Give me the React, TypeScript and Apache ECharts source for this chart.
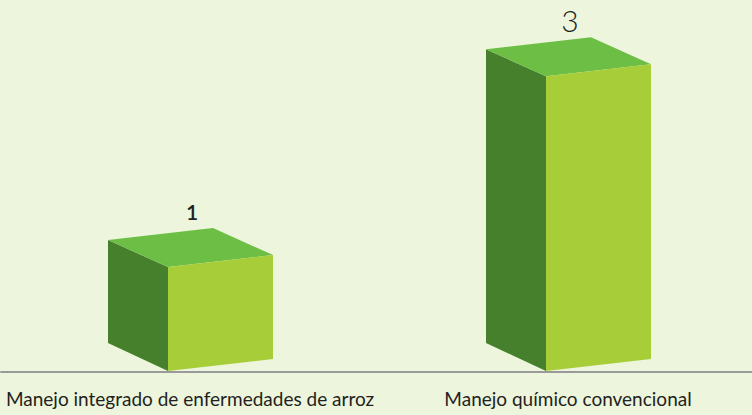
import React, { useEffect, useRef } from "react";
import * as echarts from "echarts";

const categories = ["Manejo integrado de enfermedades de arroz", "Manejo químico convencional"];
const values = [1, 3];

const Y_MIN = -0.1;
const Y_MAX = 3.8;

const COLORS = {
  bg: "#EDF5DC",
  front: "#A7CE39",
  side: "#46802C",
  top: "#6CBE45",
  axis: "#9A9A9A",
  text: "#231F20",
};

const valueLabelStyles = [
  { fontSize: 21, fontWeight: 600 },
  { fontSize: 30, fontWeight: 300 },
];

export default function App() {
  const ref = useRef<HTMLDivElement>(null);

  useEffect(() => {
    if (!ref.current) return;
    const chart = echarts.init(ref.current, undefined, { renderer: "svg" });

    const renderItem = (params: any, api: any) => {
      const cat = api.value(0);
      const val = api.value(1);
      const [cx, top] = api.coord([cat, val]);
      const base = api.coord([cat, Y_MIN])[1] - 1;
      const fl = cx - 22; // front left
      const fr = fl + 105; // front right
      const skew = 12;
      const dx = -60;
      const dy = -27;
      const ls = valueLabelStyles[params.dataIndex] || valueLabelStyles[0];
      return {
        type: "group",
        children: [
          {
            type: "polygon",
            shape: {
              points: [
                [fl, top],
                [fl, base],
                [fl + dx, base + dy - 1],
                [fl + dx, top + dy],
              ],
            },
            style: { fill: COLORS.side },
          },
          {
            type: "polygon",
            shape: {
              points: [
                [fl, top],
                [fr, top - skew],
                [fr + dx, top - skew + dy],
                [fl + dx, top + dy],
              ],
            },
            style: { fill: COLORS.top },
          },
          {
            type: "polygon",
            shape: {
              points: [
                [fl, top],
                [fr, top - skew],
                [fr, base - skew],
                [fl, base],
              ],
            },
            style: { fill: COLORS.front },
          },
          {
            type: "text",
            x: cx + 2,
            y: top - 56,
            style: {
              text: String(val),
              fontSize: ls.fontSize,
              fontWeight: ls.fontWeight,
              fontFamily: "Lato, 'Open Sans', sans-serif",
              fill: COLORS.text,
              align: "center",
              verticalAlign: "middle",
            },
          },
        ],
      };
    };

    chart.setOption({
      animation: false,
      backgroundColor: COLORS.bg,
      grid: { left: 1, width: 756, top: 0, bottom: 43, outerBoundsMode: "none", containLabel: false },
      xAxis: {
        type: "category",
        data: categories,
        axisLine: { show: true, onZero: false, lineStyle: { color: COLORS.axis, width: 2 } },
        axisTick: { show: false },
        axisLabel: {
          interval: 0,
          fontSize: 19,
          color: COLORS.text,
          fontFamily: "Lato, 'Open Sans', sans-serif",
          margin: 17,
        },
      },
      yAxis: {
        type: "value",
        min: Y_MIN,
        max: Y_MAX,
        show: false,
        splitLine: { show: false },
      },
      series: [
        {
          type: "custom",
          renderItem,
          encode: { x: 0, y: 1 },
          data: values.map((v, i) => [i, v]),
        },
      ],
    });

    return () => chart.dispose();
  }, []);

  return (
    <div
      ref={ref}
      style={{ position: "absolute", left: 0, top: 0, width: 752, height: 415 }}
    />
  );
}
